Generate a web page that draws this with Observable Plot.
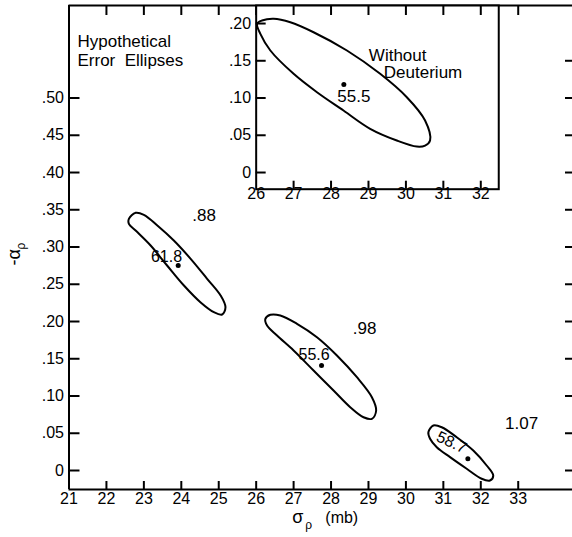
<!DOCTYPE html>
<html>
<head>
<meta charset="utf-8">
<script src="https://cdn.jsdelivr.net/npm/d3@7"></script>
<script src="https://cdn.jsdelivr.net/npm/@observablehq/plot@0.6"></script>
<style>
  html, body { margin: 0; padding: 0; background: #fff; }
  #chart { position: relative; width: 572px; height: 537px; overflow: hidden; background: #fff; }
  #chart svg { position: absolute; left: 0; top: 0; }
</style>
</head>
<body>
<div id="chart"></div>
<script>
// ---------- main panel axes ----------
const xDomain = [21, 34.45];
const yDomain = [-0.0255, 0.6242];
const xTickLabels = [21, 22, 23, 24, 25, 26, 27, 28, 29, 30, 31, 32, 33];
const xTicksBottom = [22, 23, 24, 25, 26, 27, 28, 29, 30, 31, 32, 33];
const xTicksTop = [22, 23, 24, 25, 26, 27, 28, 29, 30, 31, 32, 33];
const yTicksLeft = [0, 0.05, 0.10, 0.15, 0.20, 0.25, 0.30, 0.35, 0.40, 0.45, 0.50];
const yTicksRight = [0, 0.05, 0.10, 0.15, 0.20, 0.25, 0.30, 0.35, 0.40, 0.45, 0.50, 0.55];

// ---------- hypothetical error ellipses (sigma_p [mb], -alpha_p) ----------
const ellipse618 = [
  [22.60, 0.3378], [22.78, 0.3459], [23.00, 0.3432], [23.36, 0.3289], [23.80, 0.3087],
  [24.25, 0.2841], [24.69, 0.2573], [25.05, 0.2349], [25.18, 0.2192], [25.09, 0.2094],
  [24.87, 0.2125], [24.51, 0.2259], [24.07, 0.2483], [23.62, 0.2752], [23.18, 0.3020],
  [22.78, 0.3221], [22.60, 0.3311]
];
const ellipse556 = [
  [26.245, 0.2036], [26.379, 0.2090], [26.645, 0.2081], [27.091, 0.1969], [27.624, 0.1789],
  [28.157, 0.1544], [28.691, 0.1252], [29.091, 0.0984], [29.205, 0.0805], [29.091, 0.0694],
  [28.867, 0.0715], [28.512, 0.0850], [28.067, 0.1074], [27.533, 0.1342], [27.000, 0.1611],
  [26.557, 0.1812], [26.291, 0.1946]
];
const ellipse587 = [
  [30.600, 0.0514], [30.733, 0.0604], [30.957, 0.0581], [31.357, 0.0447], [31.800, 0.0268],
  [32.157, 0.0067], [32.333, -0.0067], [32.245, -0.0134], [32.024, -0.0111], [31.624, 0.0023],
  [31.179, 0.0179], [30.824, 0.0313], [30.645, 0.0426]
];
const centers = [
  { x: 23.917, y: 0.2752 },
  { x: 27.746, y: 0.1409 },
  { x: 31.655, y: 0.0157 }
];
const chiLabels = [
  { text: "61.8", x: 23.605, y: 0.2872, rotate: 0 },
  { text: "55.6", x: 27.546, y: 0.1557, rotate: 0 },
  { text: "58.7", x: 31.219, y: 0.0376, rotate: 25 }
];
const corrLabels = [
  { text: ".88", x: 24.607, y: 0.3423 },
  { text: ".98", x: 28.895, y: 0.1902 },
  { text: "1.07", x: 33.090, y: 0.0631 }
];
const titleLines = [
  { text: "Hypothetical", x: 21.227, y: 0.5752 },
  { text: "Error  Ellipses", x: 21.227, y: 0.5503 }
];

// ---------- inset: without deuterium ----------
const insetXDomain = [26, 32.48];
const insetYDomain = [-0.0224, 0.2242];
const insetXTickLabels = [26, 27, 28, 29, 30, 31, 32];
const insetXTicks = [27, 28, 29, 30, 31, 32];
const insetYTicks = [0, 0.05, 0.10, 0.15, 0.20];
const ellipse555 = [
  [26.024, 0.1996], [26.157, 0.2040], [26.467, 0.2063], [26.912, 0.2017], [27.533, 0.1883],
  [28.424, 0.1638], [29.312, 0.1325], [30.024, 0.1011], [30.512, 0.0698], [30.645, 0.0430],
  [30.512, 0.0362], [30.291, 0.0349], [29.757, 0.0430], [29.045, 0.0587], [28.333, 0.0832],
  [27.624, 0.1078], [27.000, 0.1325], [26.379, 0.1638], [26.112, 0.1862]
];
const insetCenter = [{ x: 28.342, y: 0.1181 }];
const insetValueLabel = [{ text: "55.5", x: 28.61, y: 0.102 }];
const insetTitle = [
  { text: "Without", x: 29.01, y: 0.157 },
  { text: "Deuterium", x: 29.41, y: 0.1336 }
];

// ---------- layout ----------
const FONT = "'Liberation Sans', Arial, sans-serif";
const W = 572, H = 537, ML = 68.5, MR = 0, MT = 5, MB = 48;
const fw = W - ML - MR, fh = H - MT - MB;
const kx = fw / (xDomain[1] - xDomain[0]);
const ky = fh / (yDomain[1] - yDomain[0]);
const yFmt = d => d === 0 ? "0" : d.toFixed(2).replace(/^0/, "");
const lineStyle = { stroke: "black", strokeWidth: 2 };

const main = Plot.plot({
  width: W, height: H,
  marginLeft: ML, marginRight: MR, marginTop: MT, marginBottom: MB,
  style: { fontFamily: FONT, background: "white", overflow: "visible" },
  x: { domain: xDomain, axis: null },
  y: { domain: yDomain, axis: null },
  marks: [
    Plot.ruleX([xDomain[0]], { ...lineStyle }),
    Plot.ruleY([yDomain[0], yDomain[1]], { ...lineStyle }),
    Plot.tickX(xTicksBottom, { x: d => d, insetTop: fh - 8, ...lineStyle }),
    Plot.tickX(xTicksTop, { x: d => d, insetBottom: fh - 10, ...lineStyle }),
    Plot.tickY(yTicksLeft, { y: d => d, insetRight: fw - 11, ...lineStyle }),
    Plot.tickY(yTicksRight, { y: d => d, insetLeft: fw - 7, ...lineStyle }),
    Plot.text(xTickLabels, { x: d => d, frameAnchor: "bottom", dy: 14, text: d => String(d), fontSize: 16 }),
    Plot.text(yTicksLeft, { y: d => d, frameAnchor: "left", dx: -5, textAnchor: "end", text: yFmt, fontSize: 16 }),
    Plot.line(ellipse618, { x: d => d[0], y: d => d[1], curve: "catmull-rom-closed", ...lineStyle }),
    Plot.line(ellipse556, { x: d => d[0], y: d => d[1], curve: "catmull-rom-closed", ...lineStyle }),
    Plot.line(ellipse587, { x: d => d[0], y: d => d[1], curve: "catmull-rom-closed", ...lineStyle }),
    Plot.dot(centers, { x: "x", y: "y", r: 2.5, fill: "black", stroke: null }),
    Plot.text(chiLabels, { x: "x", y: "y", text: "text", rotate: "rotate", fontSize: 16 }),
    Plot.text(corrLabels, { x: "x", y: "y", text: "text", fontSize: 17 }),
    Plot.text(titleLines, { x: "x", y: "y", text: "text", textAnchor: "start", fontSize: 17 }),
    // axis titles
    Plot.text(["σ"], { frameAnchor: "bottom", dx: -23, dy: 33, fontSize: 18 }),
    Plot.text(["ρ"], { frameAnchor: "bottom", dx: -12, dy: 39, fontSize: 12 }),
    Plot.text(["(mb)"], { frameAnchor: "bottom", dx: 21, dy: 33, fontSize: 16 }),
    Plot.text(["-α"], { frameAnchor: "left", dx: -55, dy: 18, rotate: -90, fontSize: 18 }),
    Plot.text(["ρ"], { frameAnchor: "left", dx: -48, dy: 2, rotate: -90, fontSize: 12 })
  ]
});

// inset placed with the same x/y pixel scale as the main panel
const IW = W, IH = 212;
const iml = ML + (insetXDomain[0] - xDomain[0]) * kx;
const imr = W - (ML + (insetXDomain[1] - xDomain[0]) * kx);
const imt = MT;
const ibottom = imt + (insetYDomain[1] - insetYDomain[0]) * ky;
const imb = IH - ibottom;
const ifw = IW - iml - imr, ifh = ibottom - imt;

const inset = Plot.plot({
  width: IW, height: IH,
  marginLeft: iml, marginRight: imr, marginTop: imt, marginBottom: imb,
  style: { fontFamily: FONT, background: "transparent", overflow: "visible" },
  x: { domain: insetXDomain, axis: null },
  y: { domain: insetYDomain, axis: null },
  marks: [
    Plot.frame({ fill: "white", ...lineStyle }),
    Plot.tickX(insetXTicks, { x: d => d, insetTop: ifh - 8, ...lineStyle }),
    Plot.tickX(insetXTicks, { x: d => d, insetBottom: ifh - 10, ...lineStyle }),
    Plot.tickY(insetYTicks, { y: d => d, insetRight: ifw - 10, ...lineStyle }),
    Plot.text(insetXTickLabels, { x: d => d, frameAnchor: "bottom", dy: 10, text: d => String(d), fontSize: 16 }),
    Plot.text(insetYTicks, { y: d => d, frameAnchor: "left", dx: -5, textAnchor: "end", text: yFmt, fontSize: 16 }),
    Plot.line(ellipse555, { x: d => d[0], y: d => d[1], curve: "catmull-rom-closed", ...lineStyle }),
    Plot.dot(insetCenter, { x: "x", y: "y", r: 2.5, fill: "black", stroke: null }),
    Plot.text(insetValueLabel, { x: "x", y: "y", text: "text", fontSize: 17 }),
    Plot.text(insetTitle, { x: "x", y: "y", text: "text", textAnchor: "start", fontSize: 17 })
  ]
});

const holder = document.getElementById("chart");
holder.appendChild(main);
holder.appendChild(inset);
</script>
</body>
</html>
